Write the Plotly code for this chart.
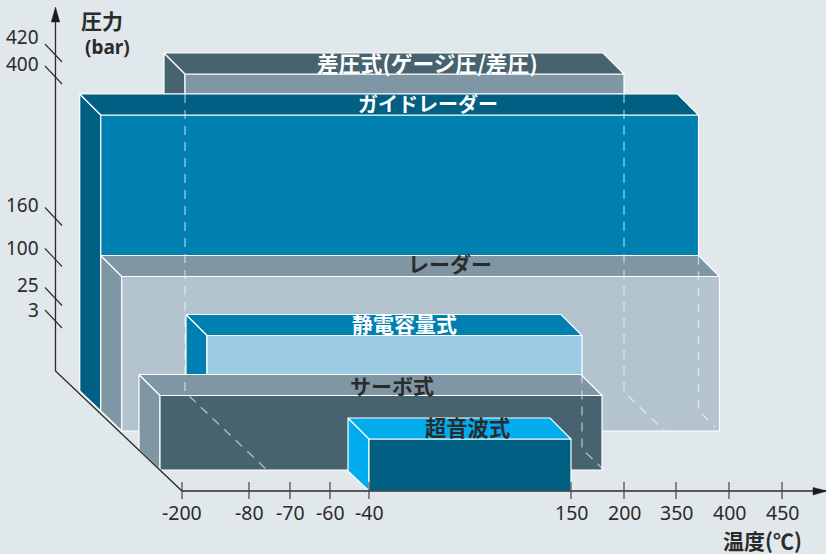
import numpy as np
import plotly.graph_objects as go

# ---- data ----
temp_ticks = [-200, -80, -70, -60, -40, 150, 200, 350, 400, 450]
press_ticks = [3, 25, 100, 160, 400, 420]
names = ["差圧式(ゲージ圧/差圧)", "ガイドレーダー", "レーダー", "静電容量式", "サーボ式", "超音波式"]
temp_low = [-70, -196, -196, -80, -200, -40]
temp_high = [400, 450, 450, 200, 200, 150]
press_high = [420, 400, 160, 100, 25, 3]

# ---- scales of the drawing (pixel layout of the non-linear axes) ----
W, H = 826, 554
X_POS = [182, 249, 290, 330, 369, 571, 624, 676, 729, 782]
P_LEN = [52, 74.5, 113.5, 154.5, 296, 318]
ORIGIN = (182, 491)
AXIS_BACK = (55.5, 371)
DEPTH_DX = [105, 83.5, 62.5, 42, 22, 0]
DEPTH_DY = [99, 80, 60, 42, 21, 0]

C_DARK = "#005f83"
C_MID = "#0080b0"
C_SLATE = "#46636f"
C_GREY = "#7f97a4"
C_PALE = "#b3c4cf"
C_SKY = "#9bcbe3"
C_CYAN = "#00acee"
TOP = [C_SLATE, C_DARK, C_GREY, C_MID, C_GREY, C_CYAN]
SIDE = [C_SLATE, C_DARK, C_GREY, C_MID, C_GREY, C_CYAN]
FRONT = [C_GREY, C_MID, C_PALE, C_SKY, C_SLATE, C_DARK]
LABEL_COL = ["white", "white", "#2b2b2b", "white", "#2b2b2b", "#2b2b2b"]
LABEL_XY = [(427.5, 62), (428, 103), (450, 263), (404, 323), (392, 385), (467, 426)]
LABEL_SIZE = [21.8, 20, 21, 21, 21, 21.3]
BACK = 21
INK = "#2b2b2b"
CJK = "Noto Sans CJK JP"
NUM = "Noto Sans"

sx = lambda t: float(np.interp(t, temp_ticks, X_POS))
sp = lambda p: float(np.interp(p, press_ticks, P_LEN))

fig = go.Figure()


def poly(xs, ys, color, line="white", w=1.2):
    fig.add_trace(go.Scatter(x=xs, y=ys, mode="lines", fill="toself", fillcolor=color,
                             line=dict(color=line, width=w), hoverinfo="skip", showlegend=False))


def seg(xs, ys, color=INK, w=1.2, dash=None):
    fig.add_trace(go.Scatter(x=xs, y=ys, mode="lines",
                             line=dict(color=color, width=w, dash=dash),
                             hoverinfo="skip", showlegend=False))


def box(i):
    x0 = sx(temp_low[i]) - DEPTH_DX[i]
    x1 = sx(temp_high[i]) - DEPTH_DX[i]
    yb = ORIGIN[1] - DEPTH_DY[i]
    yt = yb - sp(press_high[i])
    return x0, x1, yt, yb


# boxes, back to front; each face is cut where the next box hides it
for i in range(len(names)):
    x0, x1, yt, yb = box(i)
    b = BACK
    cut = yb
    if i == 0:
        cut = box(1)[2] - b
    if i == 3:
        cut = box(4)[2] - b
    if cut == yb:
        poly([x0 - b, x0, x0, x0 - b, x0 - b], [yt - b, yt, yb, yb - b * 0.95, yt - b], SIDE[i])
    else:
        poly([x0 - b, x0, x0, x0 - b, x0 - b], [yt - b, yt, cut, cut, yt - b], SIDE[i])
    poly([x0, x1, x1, x0, x0], [yt, yt, cut, cut, yt], FRONT[i])
    poly([x0 - b, x1 - b, x1, x0, x0 - b], [yt - b, yt - b, yt, yt, yt - b], TOP[i])

# hidden edges: box index, side, occluding box (start), box whose base ends the dash
hidden_box = [0, 0, 1, 3]
hidden_side = [0, 1, 1, 1]
hidden_from = [1, 1, 2, 4]
hidden_to = [4, 2, 2, 4]
DASH_COL = "rgba(255,255,255,0.55)"
for k in range(len(hidden_box)):
    x0, x1, yt, yb = box(hidden_box[k])
    x = x1 if hidden_side[k] else x0
    y_start = box(hidden_from[k])[2] - BACK
    y_end = box(hidden_to[k])[3]
    if hidden_box[k] == 1:
        y_end -= 4
    dx = (y_end - yb) * 1.05
    seg([x, x, x + dx], [y_start, yb, y_end], color=DASH_COL, w=1.4, dash="9px,7px")

# axes
seg([AXIS_BACK[0], AXIS_BACK[0], ORIGIN[0], W], [16, AXIS_BACK[1], ORIGIN[1], ORIGIN[1]], w=1.3)
poly([AXIS_BACK[0], AXIS_BACK[0] - 4.2, AXIS_BACK[0] + 4.2, AXIS_BACK[0]], [7, 22, 22, 7], "#1c1c1c", line="#1c1c1c", w=0.5)
poly([813, 827, 813, 813], [487.5, 491, 495, 487.5], "#1c1c1c", line="#1c1c1c", w=0.5)

anns = []


def text(x, y, s, size, family=NUM, color=INK, anchor="center", bold=False):
    anns.append(dict(x=x, y=y, xref="x", yref="y", text=f"<b>{s}</b>" if bold else s, showarrow=False,
                     xanchor=anchor, yanchor="middle",
                     font=dict(size=size, family=family, color=color)))


for t, xp in zip(temp_ticks, X_POS):
    seg([xp, xp], [482, 499], color="#444444", w=1.2)
    text(xp, 512, str(t), 19.5)

LABEL_UP = {420: 16.5, 400: 11, 160: 12, 100: 10, 25: 11.5, 3: 9.5}
for p, ln in zip(press_ticks, P_LEN):
    yc = AXIS_BACK[1] - ln
    seg([45, 62], [yc - 9, yc + 9], color=INK, w=1.1)
    text(41, yc - LABEL_UP[p], str(p), 19, anchor="right")

for n, (lx, ly), c, s in zip(names, LABEL_XY, LABEL_COL, LABEL_SIZE):
    text(lx, ly, n, s, family=CJK, color=c, bold=True)

text(102, 20, "圧力", 21, family=CJK, bold=True)
text(107, 47, "(bar)", 19, family=NUM, bold=True)
text(762, 540, "温度(℃)", 21, family=CJK, bold=True)

fig.update_layout(
    width=W, height=H, margin=dict(l=0, r=0, t=0, b=0),
    paper_bgcolor="#e1e8ec", plot_bgcolor="#e1e8ec",
    xaxis=dict(range=[0, W], visible=False, fixedrange=True),
    yaxis=dict(range=[H, 0], visible=False, fixedrange=True),
    showlegend=False, annotations=anns, hovermode=False,
)
fig.write_html("out.html", config={"displayModeBar": False},
               post_script="document.documentElement.style.margin='0';document.body.style.margin='0';document.body.style.overflow='hidden';")
